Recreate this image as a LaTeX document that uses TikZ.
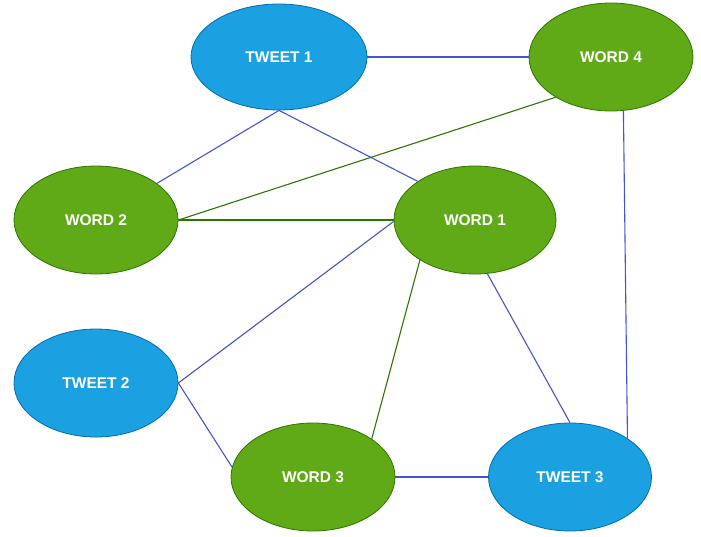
\documentclass[tikz,border=0pt]{standalone}
\usepackage{fontspec}
\setmainfont{Liberation Sans}
\usetikzlibrary{shapes.geometric}
\definecolor{tfill}{HTML}{1BA1E2}
\definecolor{tdraw}{HTML}{006EAF}
\definecolor{wfill}{HTML}{60A917}
\definecolor{wdraw}{HTML}{2D7600}
\definecolor{eblue}{HTML}{4455CC}
\definecolor{egreen}{HTML}{2D7600}
\tikzset{
  base/.style={ellipse, minimum width=164pt, minimum height=108pt, inner sep=0pt,
    text=white, font=\fontsize{15.5}{17}\selectfont\bfseries, line width=0.8pt},
  tweet/.style={base, fill=tfill, draw=tdraw},
  word/.style={base, fill=wfill, draw=wdraw},
  be/.style={draw=eblue, line width=1.1pt},
  ge/.style={draw=egreen, line width=1.1pt}
}
\begin{document}
\begin{tikzpicture}[x=1pt,y=-1pt]
\useasboundingbox (0,0) rectangle (701,536);
\node[tweet, minimum width=176pt, minimum height=106pt] (t1) at (279,57) {TWEET 1};
\node[word] (w4) at (611,57) {WORD 4};
\node[word] (w2) at (96,220) {WORD 2};
\node[word, minimum width=162pt] (w1) at (475,220) {WORD 1};
\node[tweet] (t2) at (96,383) {TWEET 2};
\node[word] (w3) at (313,477) {WORD 3};
\node[tweet, minimum width=163pt] (t3) at (570,477) {TWEET 3};
\draw[be] (t1.east) -- (w4.west);
\draw[be] (t1.south) -- (w2.31);
\draw[be] (t1.south) -- (w1.146);
\draw[ge] (w4.-144.5) -- (w2.east);
\draw[ge] (w2.east) -- (w1.west);
\draw[be] (w1.-179) -- (t2.east);
\draw[be] (t2.east) -- (w3.173);
\draw[ge] (w1.-144) -- (w3.33);
\draw[be] (w1.-77) -- (t3.north);
\draw[be] (w4.-77) -- (t3.34);
\draw[be] (w3.east) -- (t3.west);
\end{tikzpicture}
\end{document}
